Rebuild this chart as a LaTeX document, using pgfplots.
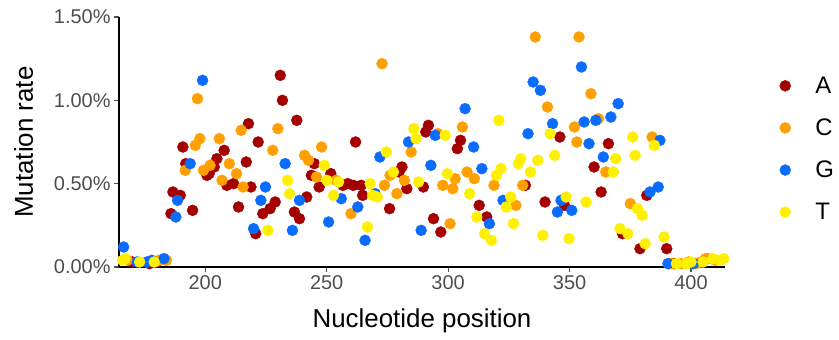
\documentclass[border=0pt]{standalone}
\usepackage{fontspec}
\setmainfont{Liberation Sans}
\usepackage{pgfplots}
\pgfplotsset{compat=1.18}
\definecolor{cA}{HTML}{A50000}
\definecolor{cC}{HTML}{FFA000}
\definecolor{cG}{HTML}{0A6CFF}
\definecolor{cT}{HTML}{FFF000}
\definecolor{tickgray}{HTML}{4D4D4D}
\begin{document}
\begin{tikzpicture}
\useasboundingbox (0,0) rectangle (839bp,340bp);
\begin{axis}[
  at={(119bp,73bp)}, anchor=south west,
  width=606bp, height=250bp, scale only axis,
  xmin=164.5, xmax=414, ymin=0, ymax=1.5,
  axis x line*=bottom, axis y line*=left,
  axis line style={black, line width=1.4bp},
  xtick={200,250,300,350,400}, ytick={0,0.5,1,1.5},
  tick align=outside, major tick length=5bp,
  tick style={tickgray, line width=1.2bp},
  /pgf/number format/assume math mode=true,
  yticklabel={\pgfmathprintnumber[fixed,fixed zerofill,precision=2,assume math mode=true]{\tick}\%},
  xticklabel={\pgfmathprintnumber[assume math mode=true]{\tick}},
  ticklabel style={font=\fontsize{20}{20}\selectfont, text=tickgray},
  xlabel={Nucleotide position}, ylabel={Mutation rate},
  label style={font=\fontsize{26}{26}\selectfont},
  xlabel style={yshift=-12bp},
  ylabel style={yshift=14bp},
  legend style={draw=none, fill=none, inner sep=0pt, outer sep=0pt,
    at={(axis description cs:1.09,0.472)}, anchor=west, row sep=20bp,
    font=\fontsize{24}{24}\selectfont},
  legend cell align=left,
  legend image code/.code={\draw[#1] plot coordinates {(0bp,0bp)}; \path (-5.5bp,0bp) (28bp,0bp);},
]
\addplot[only marks, mark=*, mark size=5.5bp, color=cA, mark options={draw=cA, fill=cA}] coordinates {
(186.7,0.45) (189.7,0.43) (185.9,0.32) (190.8,0.72) (192.0,0.62) (194.8,0.34)
(200.7,0.55) (201.6,0.56) (203.7,0.60) (204.8,0.65) (207.8,0.70) (208.9,0.49)
(211.7,0.50) (213.7,0.36) (216.9,0.63) (217.8,0.86) (218.8,0.48) (220.8,0.20)
(221.8,0.75) (223.7,0.32) (226.7,0.35) (228.8,0.39) (230.9,1.15) (231.8,1.00)
(236.7,0.33) (237.7,0.88) (238.8,0.29) (241.8,0.42) (243.7,0.55) (244.9,0.62)
(246.9,0.48) (251.7,0.56) (256.7,0.49) (258.7,0.50) (261.0,0.49) (261.9,0.75)
(264.2,0.49) (264.8,0.43) (275.9,0.35) (279.8,0.57) (281.0,0.60) (283.0,0.47)
(289.8,0.48) (290.8,0.81) (291.9,0.85) (294.0,0.29) (297.0,0.21) (303.8,0.71)
(305.1,0.76) (312.8,0.37) (315.9,0.30) (331.8,0.49) (339.9,0.39) (346.0,0.78)
(347.9,0.37) (360.1,0.60) (363.0,0.45) (366.0,0.74) (371.8,0.20) (379.0,0.11)
(381.8,0.43) (390.0,0.11)
(170,0.03) (177,0.02) (180,0.03) (391,0.02) (393,0.02)
};
\addplot[only marks, mark=*, mark size=5.5bp, color=cC, mark options={draw=cC, fill=cC}] coordinates {
(191.8,0.58) (195.9,0.73) (196.8,1.01) (197.8,0.77) (199.3,0.58) (202.0,0.61)
(205.8,0.77) (206.9,0.52) (209.9,0.62) (212.9,0.56) (214.8,0.82) (215.6,0.48)
(227.8,0.70) (229.9,0.83) (240.9,0.67) (242.5,0.64) (245.8,0.54) (247.9,0.72)
(253.9,0.52) (260.0,0.32) (272.8,1.22) (273.8,0.49) (276.1,0.55) (278.9,0.44)
(282.0,0.52) (284.8,0.69) (295.8,0.80) (297.8,0.49) (300.8,0.26) (301.9,0.47)
(302.9,0.53) (305.9,0.84) (307.8,0.57) (310.8,0.53) (318.9,0.49) (327.9,0.37)
(330.7,0.49) (335.9,1.38) (340.9,0.96) (352.0,0.84) (353.0,0.75) (353.9,1.38)
(358.8,1.04) (361.9,0.89) (364.9,0.57) (375.0,0.38) (384.0,0.78)
(168,0.04) (181,0.04) (184,0.04) (392,0.02) (396,0.02) (399,0.03) (402,0.02)
(404,0.03) (406,0.05) (407,0.05) (410,0.04)
};
\addplot[only marks, mark=*, mark size=5.5bp, color=cG, mark options={draw=cG, fill=cG}] coordinates {
(166.4,0.12) (187.9,0.30) (188.6,0.40) (193.8,0.62) (198.9,1.12) (219.9,0.23)
(222.9,0.40) (224.8,0.48) (232.9,0.62) (235.9,0.22) (238.8,0.40) (250.8,0.27)
(256.0,0.41) (262.8,0.36) (265.8,0.16) (270.0,0.44) (271.9,0.66) (283.7,0.75)
(288.9,0.22) (292.9,0.61) (294.7,0.79) (307.0,0.95) (310.5,0.72) (313.9,0.59)
(317.0,0.26) (322.6,0.40) (332.9,0.80) (335.0,1.11) (338.0,1.06) (343.0,0.86)
(345.0,0.33) (346.5,0.40) (350.9,0.34) (354.9,1.20) (356.0,0.87) (358.0,0.74)
(360.8,0.88) (363.9,0.66) (367.0,0.90) (370.0,0.98) (383.1,0.45) (386.5,0.48)
(387.2,0.76)
(172,0.03) (176,0.03) (178,0.04) (183,0.05) (390.5,0.02) (401,0.02)
};
\addplot[only marks, mark=*, mark size=5.5bp, color=cT, mark options={draw=cT, fill=cT}] coordinates {
(225.8,0.22) (233.9,0.52) (234.7,0.44) (249.0,0.61) (250.1,0.52) (252.8,0.43)
(254.9,0.51) (266.8,0.24) (267.9,0.50) (268.9,0.43) (270.9,0.42) (274.6,0.69)
(277.5,0.57) (285.9,0.83) (286.8,0.77) (287.8,0.51) (298.8,0.79) (299.7,0.56)
(308.9,0.44) (311.8,0.30) (315.0,0.20) (317.8,0.16) (319.9,0.55) (320.9,0.88)
(321.8,0.59) (323.9,0.36) (325.8,0.42) (326.9,0.26) (328.9,0.62) (329.9,0.65)
(333.9,0.57) (336.9,0.64) (339.0,0.19) (342.0,0.80) (343.9,0.67) (348.6,0.42)
(349.8,0.17) (356.8,0.39) (368.0,0.57) (369.0,0.65) (370.8,0.23) (374.0,0.20)
(376.0,0.78) (377.0,0.67) (378.0,0.35) (379.9,0.31) (381.1,0.14) (384.9,0.73)
(388.9,0.18)
(166,0.04) (167,0.05) (173,0.03) (179,0.03) (394,0.02) (398,0.02) (400,0.03)
(405,0.03) (409,0.05) (412,0.04) (413.5,0.05)
};
\legend{A,C,G,T}
\end{axis}
\end{tikzpicture}
\end{document}
